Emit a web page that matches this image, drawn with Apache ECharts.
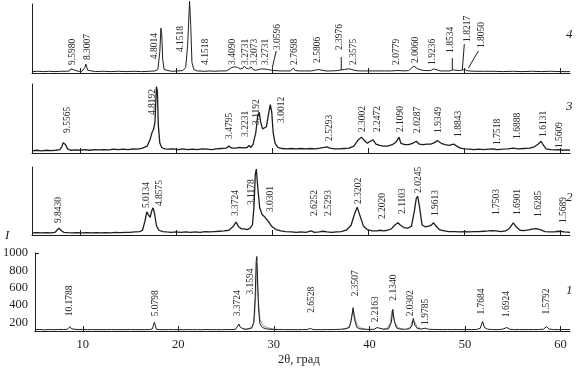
<!DOCTYPE html>
<html><head><meta charset="utf-8">
<script src="https://cdn.jsdelivr.net/npm/echarts@6/dist/echarts.min.js"></script>
<style>html,body{margin:0;padding:0;background:#fff}#c{width:579px;height:370px}</style>
</head><body><div id="c"></div>
<script>
// ---- axis data ----
const xMin = 5, xMax = 61;
const xTicks = [10, 20, 30, 40, 50, 60];
const yTicks1 = [200, 400, 600, 800, 1000];
const panelNames = ['4', '3', '2', '1'];

// ---- pattern 4 (top) [2theta, intensity, arbitrary units 0-100] ----
const pattern4 = [[5,2],[5.6,2.5],[6.2,2],[6.8,2.5],[7.4,2],[8,2.5],[8.6,2.5],[8.9,3],[9.05,6],[9.17,8],[9.3,5],[9.45,3],[9.8,2.5],[10.2,2.5],
[10.4,3],[10.5,8],[10.6,13],[10.7,12],[10.8,4],[11,2.5],[11.6,2],[12.4,2.5],[13.2,2],[14,2.5],[14.8,2],[15.6,2.5],[16.4,2],[17.2,2.5],[17.8,3],
[18.1,5],[18.3,30],[18.42,65],[18.5,58],[18.6,20],[18.75,5],[18.95,3],[19.5,2.5],[20.2,3],[20.7,3.5],[21.0,8],[21.2,40],[21.4,104],[21.52,70],[21.65,15],[21.85,5],[22.2,3],
[23,2.5],[23.5,3],[24,2.5],[24.6,3],[25.2,3],[25.5,5],[25.8,8],[26.1,9],[26.4,8],[26.7,6],[26.95,7],[27.1,10],[27.3,7],[27.55,6],[27.8,9],[28.0,5],[28.3,4],[28.6,5],[28.9,6],[29.1,5],[29.35,5.5],[29.6,5],[29.9,4],[30.3,3.5],[30.8,3],[31.4,3],[31.9,3],
[32.1,4],[32.22,7],[32.4,3.5],[32.9,3],[33.5,3],[34.1,3],[34.4,4],[34.6,6],[34.8,5],[35,3.5],[35.6,3],[36.2,3],[36.8,3.5],[37.2,4.5],[37.5,5],[37.9,6],[38.2,5.5],[38.5,4],[39,3],[39.6,3],[40.3,3],[41,3],[41.7,3],[42.4,3],[42.9,3.5],
[43.1,6],[43.3,3.5],[43.7,3],[44.2,3.5],[44.5,7],[44.75,10],[44.95,9],[45.15,6],[45.35,5],[45.6,4],[46,3.5],[46.5,3.5],[46.8,6],[47.0,3.5],[47.5,3],[48,3],[48.5,3],
[48.75,4.5],[48.95,3],[49.5,3.5],[49.8,4.5],[50.0,3],[50.15,4.5],[50.4,3],[51.2,2.5],[52,2.5],[53,2.5],[54,2],[55,2.5],[56,2],[57,2.5],[58,2],[59,2.5],[60,2],[61,2]];

// ---- pattern 3 ----
const pattern3 = [[5,3],[5.5,4],[6,3],[6.5,4],[7,3.5],[7.5,4],[7.9,5],[8.1,9],[8.25,15],[8.35,17],[8.5,12],[8.7,6],[9,4],[9.5,4.5],[10,4],[10.5,5],[11,4],[11.5,5],[12,4.5],[12.5,5],[13,4.5],[13.5,5.5],[14,5],[14.5,5.5],[15,5],[15.5,6],[16,5.5],[16.5,7],[17,10],[17.3,20],[17.5,30],[17.65,34],[17.8,45],[17.95,96],[18.05,90],[18.15,40],[18.3,15],[18.5,8],[18.8,6],
[19.2,5.5],[19.7,6],[20.2,5],[20.7,6],[21.2,5],[21.7,5.5],[22.2,5],[22.7,6],[23.2,5.5],[23.7,5],[24.2,6],[24.7,6.5],[25.2,7],[25.5,10],[25.8,7],[26.2,7],[26.6,8],[27,7.5],[27.2,9],[27.4,8],[27.6,11],[27.75,8],[28.0,12],[28.3,30],[28.5,55],[28.65,59],[28.8,45],[29.0,35],[29.2,33],[29.4,38],[29.6,55],[29.8,70],[29.95,60],[30.1,30],[30.3,14],[30.6,8],
[31,6.5],[31.5,6],[32,6.5],[32.5,6],[33,6.5],[33.5,6],[34,6.5],[34.5,6],[35,7],[35.4,8],[35.7,9],[36,7],[36.5,6],[37,6],[37.5,6.5],[38,7],[38.5,10],[38.9,18],[39.3,23],[39.6,18],[39.9,14],[40.2,17],[40.5,19],[40.8,13],[41.2,11],[41.6,10],[42,10],[42.5,12],[42.9,16],[43.2,23],[43.4,14],[43.8,12],[44.2,12],[44.6,14],[45,17],[45.3,13],[45.7,12],[46.1,13],[46.5,13],[46.9,15],[47.2,18],[47.4,20],[47.6,14],[48,12],[48.4,11],[48.9,13],[49.2,10],[49.6,7],
[50,6],[50.5,5.5],[51,5],[51.5,5.5],[52,5],[52.5,5.5],[53,6],[53.4,5],[54,5.5],[54.5,6],[55.1,7],[55.6,6],[56.2,6.5],[56.8,7],[57.3,9],[57.7,13],[58,17],[58.2,12],[58.5,6],[59,5],[59.5,4.5],[59.8,5],[60.2,4],[60.6,4.5],[61,4]];

// ---- pattern 2 ----
const pattern2 = [[5,3],[5.5,3.5],[6,3],[6.5,3.5],[7,3],[7.4,4],[7.6,7],[7.8,10],[8.0,7],[8.3,4],[8.7,3.5],[9.2,3],[9.7,3.5],[10.2,3],[10.7,3.5],[11.2,3],[11.7,3.5],[12.2,3],[12.7,3.5],[13.2,3],[13.7,4],[14.2,3.5],[14.7,4],[15.2,4],[15.7,4.5],[16.2,5],[16.5,7],[16.75,20],[16.95,34],[17.1,30],[17.3,26],[17.45,35],[17.6,40],[17.75,32],[17.95,14],[18.2,7],[18.6,5],
[19,4.5],[19.5,4],[20,4.5],[20.5,4],[21,4.5],[21.5,4],[22,4.5],[22.5,4],[23,5],[23.5,4.5],[24,5],[24.5,5.5],[25,6],[25.5,7],[25.9,12],[26.25,19],[26.5,12],[26.8,9],[27.1,9],[27.4,8],[27.7,10],[27.95,15],[28.1,40],[28.25,90],[28.35,97],[28.5,70],[28.7,40],[28.95,30],[29.2,27],[29.4,25],[29.7,18],[30.0,12],[30.4,8],[30.9,6],[31.4,5],
[32,4.5],[32.5,4],[33,4.5],[33.5,4],[34.06,6],[34.4,4],[34.9,4.5],[35.3,5.5],[35.7,4.5],[36.2,4],[36.7,4.5],[37.2,5],[37.7,7],[38.2,14],[38.6,32],[38.85,41],[39.1,30],[39.5,13],[39.9,8],[40.4,6],[40.9,6],[41.25,7],[41.6,6],[42,7],[42.4,9],[42.8,15],[43.1,18],[43.3,15],[43.7,11],[44.1,10],[44.5,13],[44.8,35],[45.0,54],[45.15,57],[45.35,40],[45.6,15],[45.9,12],[46.3,13],[46.6,15],[46.8,18],[47.0,14],[47.4,8],[47.9,6],
[48.4,5],[49,5],[49.5,4.5],[50,5],[50.5,4.5],[51,5],[51.5,5],[52,5.5],[52.5,6],[52.9,6.5],[53.3,6],[53.8,5],[54.3,6],[54.7,10],[55.1,18],[55.4,12],[55.8,7],[56.2,6.5],[56.7,7.5],[57.2,9],[57.5,9.5],[57.9,8],[58.4,5],[58.9,4.5],[59.4,4.5],[59.8,5.5],[60.0,6],[60.4,4.5],[61,4]];

// ---- pattern 1 (bottom, counts) ----
const pattern1 = [[5,115],[5.5,118],[6,114],[6.5,117],[7,115],[7.5,118],[8,116],[8.4,120],[8.55,140],[8.65,150],[8.8,125],[9,117],[9.5,116],[10,118],[10.5,115],[11,117],[11.5,115],[12,116],[12.5,115],[13,117],[13.5,115],[14,116],[14.5,115],[15,117],[15.5,115],[16,116],[16.5,115],[17,117],[17.3,125],[17.4,170],[17.5,200],[17.6,160],[17.7,120],[18,116],[18.5,115],[19,117],[19.5,115],[20,116],[20.5,115],[21,117],[21.5,115],[22,116],[22.5,115],[23,117],[23.5,115],[24,116],[24.5,115],[25,117],[25.5,116],
[26,120],[26.2,140],[26.35,180],[26.5,140],[26.7,122],[27,120],[27.4,125],[27.7,135],[27.9,200],[28.05,500],[28.15,900],[28.22,960],[28.3,700],[28.4,350],[28.55,180],[28.8,140],[29.2,125],[29.6,120],[30,118],[30.5,116],[31,117],[31.5,115],[32,116],[32.5,115],[33,116],[33.5,118],[33.85,130],[34.1,117],[34.5,116],[35,115],[35.5,117],[36,116],[36.5,118],[37,120],[37.5,125],[37.9,140],[38.1,220],[38.3,370],[38.45,230],[38.7,140],[39,125],[39.5,120],[40,118],[40.5,120],[40.8,140],[41,122],[41.5,120],[42,125],[42.3,200],[42.45,350],[42.6,220],[42.85,135],[43.2,122],[43.7,120],[44.2,125],[44.45,160],[44.6,245],[44.75,170],[45,130],[45.4,122],[45.85,132],[46.2,120],
[46.7,118],[47.2,117],[47.7,116],[48.2,117],[48.7,116],[49.2,117],[49.7,116],[50.2,117],[50.7,116],[51.2,118],[51.6,130],[51.85,210],[52.05,140],[52.4,120],[52.9,117],[53.4,116],[53.9,120],[54.4,140],[54.7,120],[55.2,116],[55.7,117],[56.2,116],[56.7,117],[57.2,116],[57.7,117],[58.2,120],[58.55,150],[58.8,122],[59.3,117],[59.8,116],[60.3,117],[61,116]];

// gray fitted profiles under the main peaks of pattern 1
const pattern1Fit = [[26.8,118],[27.3,125],[27.7,145],[27.95,210],[28.1,500],[28.2,880],[28.35,500],[28.55,230],[28.9,160],[29.4,135],[30,122],[30.6,118],[30.7,'-'],
[37.2,120],[37.7,135],[38.0,180],[38.2,300],[38.3,350],[38.45,280],[38.7,170],[39.1,135],[39.6,122],[39.7,'-'],
[41.4,120],[41.9,135],[42.2,200],[42.35,330],[42.5,320],[42.7,190],[43.0,140],[43.5,122],[43.6,'-'],
[43.9,120],[44.3,145],[44.5,220],[44.6,240],[44.75,200],[45,150],[45.4,125]];

// ---- peak labels [2theta, intensity at label foot, d-spacing text] ----
const labels4 = [[9.17,11.6,'9.5980'],[10.73,18.8,'8.3007'],[17.71,20,'4.8014'],[20.42,30.4,'4.1518'],[23.02,11.6,'4.1518'],[25.83,11.6,'3.4090'],[27.19,11.6,'3.2731'],[28.13,11.6,'3.2073'],[29.27,11.6,'3.2731'],[30.52,33.3,'3.0596'],[32.29,11.6,'2.7698'],[34.69,14.5,'2.5806'],[36.98,33.3,'2.3976'],[38.44,11.6,'2.3575'],[42.92,11.6,'2.0779'],[44.9,14.5,'2.0060'],[46.67,11.6,'1.9236'],[48.54,29,'1.8534'],[50.31,45,'1.8217'],[51.77,36.2,'1.8050']];
const leaders4 = [[30.0,7.2,30.42,31.9],[37.19,23.2,37.19,4.3],[48.75,21.7,48.75,4.3],[49.79,4.3,50.0,42],[50.42,7.2,51.46,31.9]];
const labels3 = [[8.65,29,'9.5565'],[17.5,55,'4.8192'],[25.52,20.3,'3.4795'],[27.19,23.2,'3.2231'],[28.33,40.6,'3.1192'],[30.94,43.5,'3.0012'],[35.94,17.4,'2.5293'],[39.38,30.4,'2.3002'],[40.94,30.4,'2.2472'],[43.33,30.4,'2.1090'],[45.1,29,'2.0287'],[47.29,29,'1.9349'],[49.38,23.2,'1.8843'],[53.44,11.6,'1.7518'],[55.52,20.3,'1.6888'],[58.23,23.2,'1.6131'],[59.9,7.2,'1.5609']];
const labels2 = [[7.81,17.6,'9.8430'],[16.88,39.7,'5.0134'],[18.23,42.6,'4.8575'],[26.15,27.9,'3.3724'],[27.81,44.1,'3.1178'],[29.79,33.8,'3.0301'],[34.38,27.9,'2.6252'],[35.83,27.9,'2.5293'],[38.96,45.6,'2.3202'],[41.46,23.5,'2.2020'],[43.54,30.9,'2.1103'],[45.21,61.8,'2.0245'],[46.98,27.9,'1.9613'],[53.33,29.4,'1.7503'],[55.52,29.4,'1.6901'],[57.71,26.5,'1.6285'],[60.31,17.6,'1.5689']];
const labels1 = [[8.65,270,'10.1788'],[17.6,270,'5.0798'],[26.15,270,'3.3724'],[27.6,520,'3.1594'],[33.96,310,'2.6528'],[38.54,500,'2.3507'],[40.63,200,'2.2163'],[42.5,450,'2.1340'],[44.27,270,'2.0302'],[45.83,170,'1.9785'],[51.77,290,'1.7684'],[54.38,260,'1.6924'],[58.54,290,'1.5792']];

// ---- layout ----
const FONT = '"Liberation Serif", "Times New Roman", serif';
const INK = '#1e1e1e';
const grids = [
  {left: 32, right: 9, top: 4, height: 69},
  {left: 32, right: 9, top: 84, height: 69},
  {left: 32, right: 9, top: 167, height: 68},
  {left: 32, right: 9, top: 253, height: 78}
];
const patterns = [pattern4, pattern3, pattern2, pattern1];
const labelSets = [labels4, labels3, labels2, labels1];

const xAxes = grids.map((g, i) => ({
  gridIndex: i, type: 'value', min: xMin, max: xMax,
  axisLine: {show: true, onZero: false, lineStyle: {color: INK, width: 1}},
  axisTick: {show: true, inside: true, length: 5, customValues: xTicks, lineStyle: {color: INK, width: 1}},
  axisLabel: {show: i === 3, customValues: xTicks, formatter: v => String(v), fontFamily: FONT, fontSize: 12.5, color: INK, margin: 7},
  splitLine: {show: false}
}));
const yAxes = grids.map((g, i) => i === 3 ? ({
  gridIndex: i, type: 'value', min: 100, max: 1000,
  axisLine: {show: true, lineStyle: {color: INK, width: 1}},
  axisTick: {show: true, inside: true, length: 4, customValues: [1000], lineStyle: {color: INK}},
  axisLabel: {show: true, customValues: yTicks1, formatter: v => String(v), fontFamily: FONT, fontSize: 12.5, color: INK, margin: 7},
  splitLine: {show: false}
}) : ({
  gridIndex: i, type: 'value', min: 0, max: 100,
  axisLine: {show: true, lineStyle: {color: INK, width: 1}},
  axisTick: {show: false}, axisLabel: {show: false}, splitLine: {show: false}
}));

const series = [];
patterns.forEach((p, i) => {
  series.push({
    type: 'line', xAxisIndex: i, yAxisIndex: i, data: p, showSymbol: false, symbol: 'none',
    clip: false, silent: true, animation: false,
    lineStyle: {color: INK, width: (i === 1 || i === 2) ? 1.3 : 1}
  });
});
series.push({
  type: 'line', xAxisIndex: 3, yAxisIndex: 3, data: pattern1Fit, showSymbol: false, symbol: 'none',
  connectNulls: false, silent: true, animation: false, z: 1,
  lineStyle: {color: '#9a9a9a', width: 1}
});
labelSets.forEach((set, i) => {
  const texts = set.map(d => d[2]);
  series.push({
    type: 'custom', xAxisIndex: i, yAxisIndex: i, clip: false, silent: true, animation: false,
    data: set.map(d => [d[0], d[1]]), encode: {x: 0, y: 1},
    renderItem: function (params, api) {
      const pt = api.coord([api.value(0), api.value(1)]);
      return {
        type: 'text', x: pt[0], y: pt[1], rotation: Math.PI / 2,
        style: {text: texts[params.dataIndex], fontFamily: FONT, fontSize: 9.5, fill: '#2a2a2a',
                align: 'left', verticalAlign: 'middle'}
      };
    }
  });
});
series.push({
  type: 'custom', xAxisIndex: 0, yAxisIndex: 0, clip: false, silent: true, animation: false,
  data: leaders4, encode: {x: [0, 2], y: [1, 3]},
  renderItem: function (params, api) {
    const a = api.coord([api.value(0), api.value(1)]);
    const b = api.coord([api.value(2), api.value(3)]);
    return {type: 'line', shape: {x1: a[0], y1: a[1], x2: b[0], y2: b[1]}, style: {stroke: INK, lineWidth: 1}};
  }
});

const panelNameY = [36, 108, 199, 292];
const graphic = panelNames.map((t, i) => ({
  type: 'text', left: 566, top: panelNameY[i] - 8,
  style: {text: t, font: 'italic 13px ' + FONT, fill: INK}
}));
graphic.push({type: 'text', left: 5, top: 229, style: {text: 'I', font: 'italic 13px ' + FONT, fill: INK}});
graphic.push({type: 'text', left: 278, top: 353, style: {text: '2θ, град', font: '12.5px ' + FONT, fill: INK}});

const chart = echarts.init(document.getElementById('c'), null, {renderer: 'canvas'});
chart.setOption({
  animation: false, backgroundColor: '#fff',
  grid: grids, xAxis: xAxes, yAxis: yAxes, series: series, graphic: graphic
});
</script></body></html>
